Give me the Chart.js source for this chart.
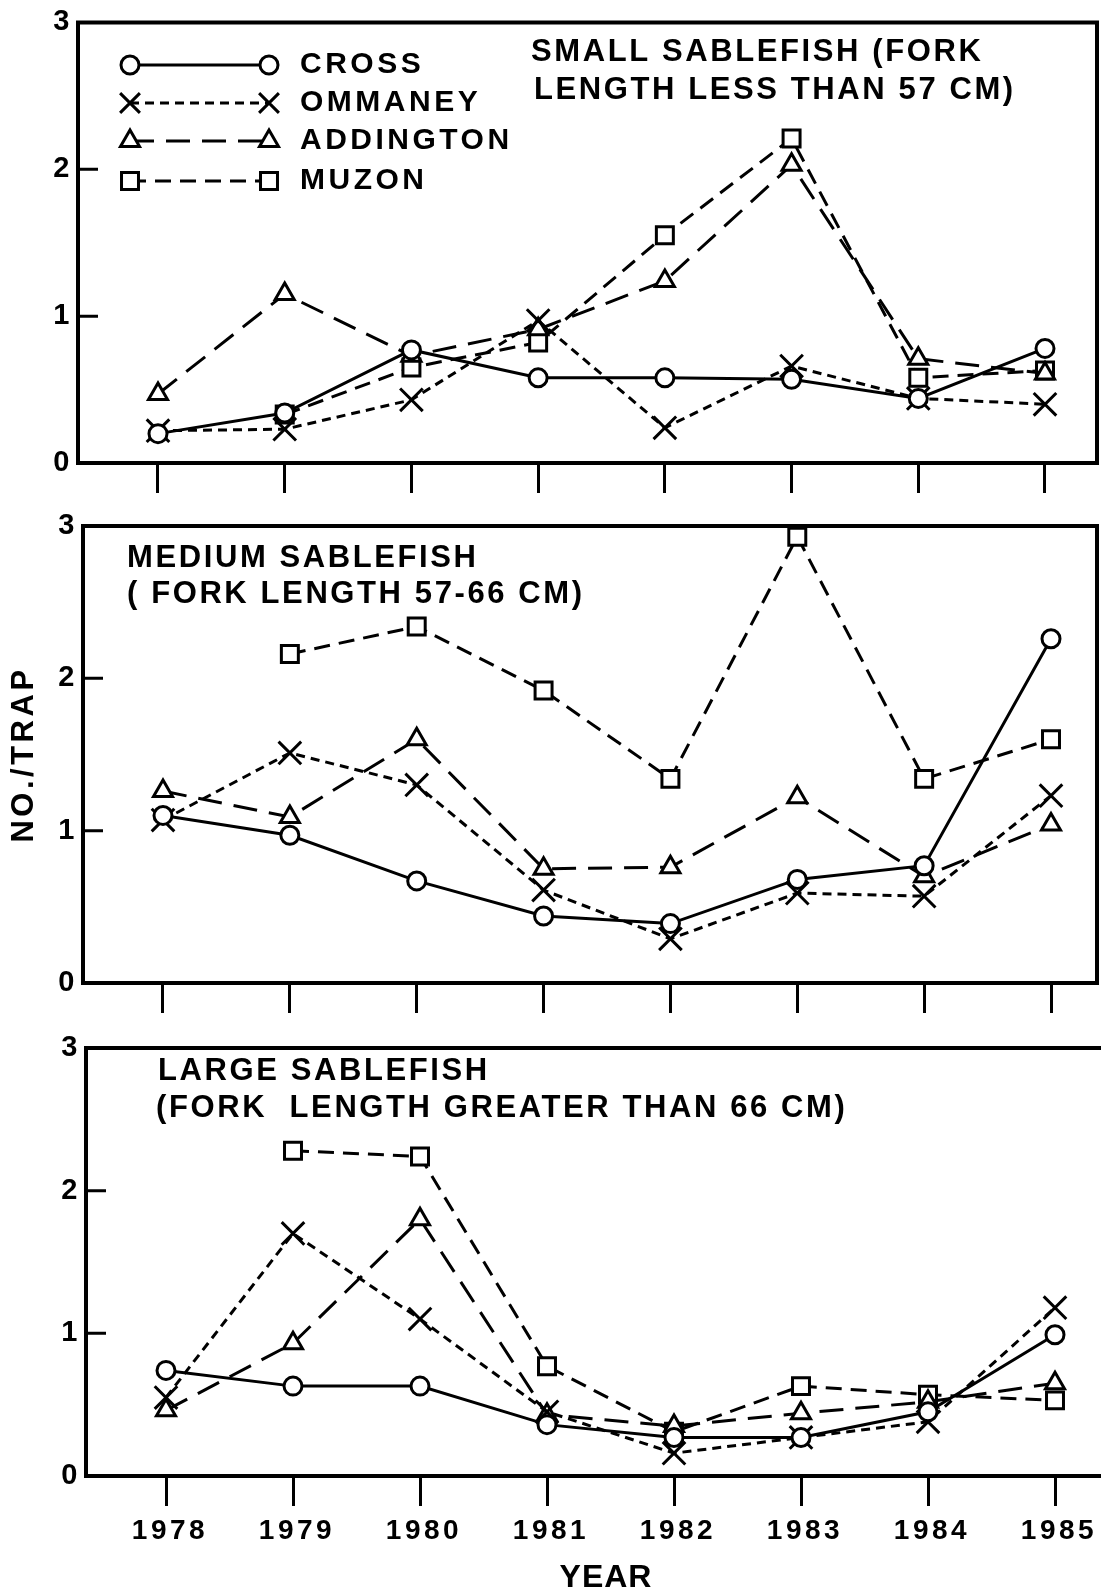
<!DOCTYPE html>
<html>
<head>
<meta charset="utf-8">
<title>Sablefish catch per trap by location, 1978-1985</title>
<script src="https://cdn.jsdelivr.net/npm/chart.js@4.4.1/dist/chart.umd.min.js"></script>
<style>
  html, body { margin: 0; padding: 0; background: #fff; width: 1101px; height: 1596px; overflow: hidden; }
  canvas { position: absolute; left: 0; display: block; }
</style>
</head>
<body>
<canvas id="small"></canvas>
<canvas id="medium"></canvas>
<canvas id="large"></canvas>
<script>
// ---- data -------------------------------------------------------------
const years = [1978, 1979, 1980, 1981, 1982, 1983, 1984, 1985];
const seriesNames = ['CROSS', 'OMMANEY', 'ADDINGTON', 'MUZON'];
const yTickValues = [0, 1, 2, 3];
const yInnerTicks = [1, 2];

// Small sablefish (fork length < 57 cm), number per trap
const smallCross     = [0.20, 0.34, 0.77, 0.58, 0.58, 0.57, 0.44, 0.78];
const smallOmmaney   = [0.22, 0.23, 0.43, 0.97, 0.24, 0.66, 0.44, 0.40];
const smallAddington = [0.47, 1.15, 0.73, 0.91, 1.24, 2.03, 0.71, 0.61];
const smallMuzon     = [null, 0.33, 0.65, 0.82, 1.55, 2.21, 0.58, 0.63];

// Medium sablefish (fork length 57-66 cm)
const mediumCross     = [1.10, 0.97, 0.67, 0.44, 0.39, 0.68, 0.77, 2.26];
const mediumOmmaney   = [1.07, 1.51, 1.30, 0.61, 0.29, 0.59, 0.57, 1.23];
const mediumAddington = [1.26, 1.09, 1.60, 0.75, 0.76, 1.22, 0.70, 1.04];
const mediumMuzon     = [null, 2.16, 2.34, 1.92, 1.34, 2.93, 1.34, 1.60];

// Large sablefish (fork length > 66 cm)
const largeCross     = [0.74, 0.63, 0.63, 0.36, 0.27, 0.27, 0.45, 0.99];
const largeOmmaney   = [0.55, 1.70, 1.10, 0.45, 0.16, 0.27, 0.38, 1.18];
const largeAddington = [0.46, 0.93, 1.80, 0.43, 0.35, 0.44, 0.52, 0.65];
const largeMuzon     = [null, 2.28, 2.24, 0.77, 0.31, 0.63, 0.57, 0.53];

const smallTitle  = ['SMALL SABLEFISH (FORK', 'LENGTH LESS THAN 57 CM)'];
const mediumTitle = ['MEDIUM SABLEFISH', '( FORK LENGTH 57-66 CM)'];
const largeTitle  = ['LARGE SABLEFISH', '(FORK  LENGTH GREATER THAN 66 CM)'];
const xAxisTitle = 'YEAR';
const yAxisTitle = 'NO./TRAP';

// ---- styles -----------------------------------------------------------
const INK = '#000';
const FONT = '"Liberation Sans", Arial, Helvetica, sans-serif';
const AXIS_SPACING = '3.5px';
const TITLE_SPACING = '2.6px';
const KEY_SPACING = '3.5px';

const seriesStyles = [
  { borderDash: [],       pointStyle: 'circle',   pointRadius: 9,  keyRadius: 9 },
  { borderDash: [9, 6],   pointStyle: 'crossRot', pointRadius: 16, keyRadius: 14 },
  { borderDash: [24, 12], pointStyle: 'triangle', pointRadius: 11, keyRadius: 11 },
  { borderDash: [16, 9],  pointStyle: 'rect',     pointRadius: 12, keyRadius: 12 }
];

// page geometry of each panel
const panels = [
  { id: 'small', top: 0, height: 500, boxLeft: 78, boxRight: 1097, boxTop: 22, boxBottom: 463,
    firstTick: 158, lastTick: 1045, openRight: false, showYears: false, yTitle: false,
    series: [smallCross, smallOmmaney, smallAddington, smallMuzon],
    title: smallTitle, titlePos: [[531, 52], [534, 90]], legend: true },
  { id: 'medium', top: 500, height: 515, boxLeft: 83, boxRight: 1097, boxTop: 526, boxBottom: 983,
    firstTick: 163, lastTick: 1051, openRight: false, showYears: false, yTitle: true,
    series: [mediumCross, mediumOmmaney, mediumAddington, mediumMuzon],
    title: mediumTitle, titlePos: [[127, 558], [127, 594]], legend: false },
  { id: 'large', top: 1015, height: 581, boxLeft: 86, boxRight: 1101, boxTop: 1048, boxBottom: 1476,
    firstTick: 166, lastTick: 1055, openRight: true, showYears: true, yTitle: false,
    series: [largeCross, largeOmmaney, largeAddington, largeMuzon],
    title: largeTitle, titlePos: [[158, 1071], [156, 1108]], legend: false,
    xTitlePos: [606, 1578] }
];

const legendLayout = { x1: 130, x2: 269, textX: 300, rows: [65, 103, 141, 181] };

// frame, inner y ticks, panel title, key and x-axis caption
function panelDecor(p) {
  return {
    id: 'panelDecor',
    beforeDraw(chart) { chart.ctx.letterSpacing = AXIS_SPACING; },
    afterDraw(chart) {
      const ctx = chart.ctx;
      const a = chart.chartArea;
      const y = chart.scales.y;
      ctx.save();
      ctx.setLineDash([]);
      ctx.strokeStyle = INK;
      ctx.lineWidth = 4;
      ctx.lineCap = 'square';
      ctx.beginPath();
      if (p.openRight) {
        ctx.moveTo(chart.width + 4, a.top);
        ctx.lineTo(a.left, a.top);
        ctx.lineTo(a.left, a.bottom);
        ctx.lineTo(chart.width + 4, a.bottom);
      } else {
        ctx.rect(a.left, a.top, a.right - a.left, a.bottom - a.top);
      }
      ctx.stroke();

      ctx.lineWidth = 3;
      ctx.lineCap = 'butt';
      ctx.beginPath();
      yInnerTicks.forEach(v => {
        const py = y.getPixelForValue(v);
        ctx.moveTo(a.left, py);
        ctx.lineTo(a.left + 20, py);
      });
      ctx.stroke();

      ctx.fillStyle = INK;
      ctx.textAlign = 'left';
      ctx.textBaseline = 'middle';
      ctx.font = 'bold 31px ' + FONT;
      ctx.letterSpacing = TITLE_SPACING;
      p.title.forEach((t, i) => ctx.fillText(t, p.titlePos[i][0], p.titlePos[i][1] - p.top));

      if (p.legend) {
        ctx.font = 'bold 30px ' + FONT;
        ctx.letterSpacing = KEY_SPACING;
        seriesNames.forEach((name, i) => {
          const st = seriesStyles[i];
          const ly = legendLayout.rows[i] - p.top;
          ctx.save();
          ctx.lineWidth = 3;
          ctx.setLineDash(st.borderDash);
          ctx.beginPath();
          ctx.moveTo(legendLayout.x1, ly);
          ctx.lineTo(legendLayout.x2, ly);
          ctx.stroke();
          ctx.restore();
          ctx.save();
          ctx.setLineDash([]);
          ctx.strokeStyle = INK;
          ctx.fillStyle = '#fff';
          ctx.lineWidth = 3;
          const opts = { pointStyle: st.pointStyle, radius: st.keyRadius, rotation: 0, borderWidth: 3 };
          Chart.helpers.drawPoint(ctx, opts, legendLayout.x1, ly);
          Chart.helpers.drawPoint(ctx, opts, legendLayout.x2, ly);
          ctx.restore();
          ctx.fillStyle = INK;
          ctx.fillText(name, legendLayout.textX, ly);
        });
      }

      if (p.xTitlePos) {
        ctx.font = 'bold 32px ' + FONT;
        ctx.letterSpacing = '1px';
        ctx.textAlign = 'center';
        ctx.fillText(xAxisTitle, p.xTitlePos[0], p.xTitlePos[1] - p.top);
      }
      ctx.restore();
      ctx.letterSpacing = '0px';
    }
  };
}

function buildPanel(p) {
  const canvas = document.getElementById(p.id);
  canvas.width = 1101;
  canvas.height = p.height;
  canvas.style.top = p.top + 'px';

  const step = (p.lastTick - p.firstTick) / (years.length - 1);
  const xMin = years[0] - (p.firstTick - p.boxLeft) / step;
  const xMax = years[years.length - 1] + (p.boxRight - p.lastTick) / step;
  const xAxisHeight = p.top + p.height - p.boxBottom;

  const datasets = seriesNames.map((name, i) => ({
    label: name,
    data: years.map((yr, j) => ({ x: yr, y: p.series[i][j] })),
    borderColor: INK,
    borderWidth: 3,
    borderDash: seriesStyles[i].borderDash,
    pointStyle: seriesStyles[i].pointStyle,
    pointRadius: seriesStyles[i].pointRadius,
    pointBorderWidth: 3,
    pointBorderColor: INK,
    pointBackgroundColor: '#fff',
    tension: 0,
    clip: false,
    spanGaps: false
  }));

  return new Chart(canvas, {
    type: 'line',
    data: { datasets },
    options: {
      responsive: false,
      animation: false,
      devicePixelRatio: 1,
      layout: {
        autoPadding: false,
        padding: { top: p.boxTop - p.top, right: 1101 - p.boxRight, left: 0, bottom: 0 }
      },
      plugins: { legend: { display: false }, tooltip: { enabled: false }, title: { display: false } },
      scales: {
        x: {
          type: 'linear',
          min: xMin,
          max: xMax,
          afterBuildTicks: s => { s.ticks = years.map(v => ({ value: v })); },
          afterFit: s => { s.height = xAxisHeight; },
          border: { display: false },
          grid: { drawOnChartArea: false, drawTicks: true, tickLength: 30, lineWidth: 3, color: INK },
          ticks: {
            display: p.showYears,
            color: INK,
            padding: 8,
            labelOffset: 4,
            maxRotation: 0,
            autoSkip: false,
            font: { family: FONT, size: 28, weight: 'bold' },
            callback: v => String(v)
          }
        },
        y: {
          min: 0,
          max: 3,
          afterBuildTicks: s => { s.ticks = yTickValues.map(v => ({ value: v })); },
          afterFit: s => { s.width = p.boxLeft; },
          border: { display: false },
          grid: { display: false, drawTicks: false },
          ticks: {
            color: INK,
            padding: 5,
            font: { family: FONT, size: 29, weight: 'bold' },
            callback: v => String(v)
          },
          title: {
            display: p.yTitle,
            text: yAxisTitle,
            color: INK,
            font: { family: FONT, size: 31, weight: 'bold' },
            padding: { top: 6, bottom: 0 }
          }
        }
      }
    },
    plugins: [panelDecor(p)]
  });
}

panels.forEach(buildPanel);
</script>
</body>
</html>
